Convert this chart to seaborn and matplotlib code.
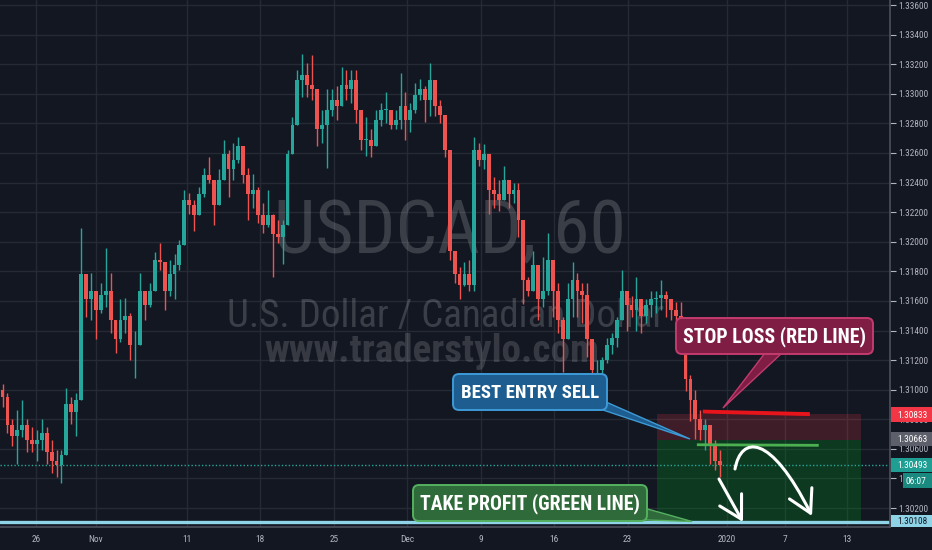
import numpy as np
import matplotlib
matplotlib.use("Agg")
import matplotlib.pyplot as plt
import seaborn as sns
from matplotlib import font_manager
from matplotlib.patches import FancyBboxPatch, Rectangle, Polygon, FancyArrowPatch
from matplotlib.path import Path
from matplotlib.transforms import Affine2D

# ---------------- data (8-hour candles, USDCAD) ----------------
first_open = 1.3100
closes = [
    1.3095, 1.3076, 1.3069, 1.3073, 1.3076, 1.3066, 1.3063, 1.3066, 1.3071, 1.3058,
    1.3052, 1.3049, 1.3056, 1.3090, 1.3085, 1.3093, 1.3178, 1.3161, 1.3167, 1.3154,
    1.3164, 1.3167, 1.3147, 1.3134, 1.3147, 1.3150, 1.3130, 1.3130, 1.3167, 1.3157,
    1.3167, 1.3188, 1.3186, 1.3167, 1.3178, 1.3184, 1.3198, 1.3228, 1.3225, 1.3218,
    1.3232, 1.3245, 1.3242, 1.3225, 1.3242, 1.3259, 1.3249, 1.3255, 1.3265, 1.3245,
    1.3232, 1.3235, 1.3218, 1.3211, 1.3218, 1.3205, 1.3203, 1.3211, 1.3259, 1.3279,
    1.3309, 1.3313, 1.3306, 1.3303, 1.3276, 1.3279, 1.3289, 1.3296, 1.3292, 1.3306,
    1.3303, 1.3309, 1.3289, 1.3269, 1.3269, 1.3265, 1.3282, 1.3289, 1.3289, 1.3279,
    1.3282, 1.3292, 1.3282, 1.3289, 1.3299, 1.3303, 1.3296, 1.3309, 1.3292, 1.3286,
    1.3262, 1.3194, 1.3178, 1.3171, 1.3178, 1.3171, 1.3262, 1.3255, 1.3259, 1.3235,
    1.3232, 1.3228, 1.3242, 1.3232, 1.3235, 1.3215, 1.3174, 1.3167, 1.3184, 1.3161,
    1.3167, 1.3188, 1.3167, 1.3147, 1.3134, 1.3161, 1.3174, 1.3167, 1.3164, 1.3134,
    1.3113, 1.3113, 1.3120, 1.3130, 1.3135, 1.3147, 1.3167, 1.3157, 1.3154, 1.3161,
    1.3150, 1.3157, 1.3161, 1.3162, 1.3164, 1.3161, 1.3154, 1.3150, 1.3130, 1.3107,
    1.3093, 1.3080, 1.3073, 1.3076, 1.3063, 1.3052, 1.30493,
]
highs = [
    1.3104, 1.3098, 1.3080, 1.3086, 1.3093, 1.3080, 1.3075, 1.3073, 1.3080, 1.3075,
    1.3066, 1.3059, 1.3059, 1.3101, 1.3095, 1.3098, 1.3209, 1.3169, 1.3179, 1.3163,
    1.3172, 1.3196, 1.3179, 1.3147, 1.3161, 1.3162, 1.3152, 1.3140, 1.3179, 1.3165,
    1.3172, 1.3193, 1.3199, 1.3185, 1.3188, 1.3192, 1.3201, 1.3235, 1.3233, 1.3228,
    1.3237, 1.3250, 1.3257, 1.3240, 1.3249, 1.3269, 1.3262, 1.3267, 1.3271, 1.3255,
    1.3250, 1.3246, 1.3237, 1.3226, 1.3235, 1.3219, 1.3215, 1.3215, 1.3262, 1.3284,
    1.3316, 1.3327, 1.3321, 1.3326, 1.3296, 1.3289, 1.3303, 1.3303, 1.3305, 1.3318,
    1.3316, 1.3316, 1.3316, 1.3282, 1.3284, 1.3276, 1.3289, 1.3294, 1.3301, 1.3289,
    1.3289, 1.3314, 1.3301, 1.3294, 1.3307, 1.3310, 1.3305, 1.3321, 1.3303, 1.3296,
    1.3284, 1.3257, 1.3194, 1.3183, 1.3186, 1.3188, 1.3271, 1.3267, 1.3266, 1.3255,
    1.3244, 1.3242, 1.3251, 1.3240, 1.3240, 1.3240, 1.3203, 1.3176, 1.3194, 1.3183,
    1.3190, 1.3206, 1.3188, 1.3172, 1.3149, 1.3172, 1.3186, 1.3179, 1.3172, 1.3172,
    1.3127, 1.3120, 1.3122, 1.3135, 1.3138, 1.3149, 1.3181, 1.3167, 1.3163, 1.3176,
    1.3159, 1.3161, 1.3167, 1.3167, 1.3174, 1.3167, 1.3161, 1.3159, 1.3159, 1.3134,
    1.3110, 1.3100, 1.3086, 1.3080, 1.3076, 1.3066, 1.3059,
]
lows = [
    1.3088, 1.3071, 1.3062, 1.3050, 1.3068, 1.3058, 1.3058, 1.3052, 1.3059, 1.3050,
    1.3044, 1.3041, 1.3037, 1.3068, 1.3077, 1.3069, 1.3093, 1.3149, 1.3147, 1.3134,
    1.3152, 1.3156, 1.3138, 1.3125, 1.3132, 1.3138, 1.3120, 1.3108, 1.3147, 1.3147,
    1.3156, 1.3172, 1.3181, 1.3154, 1.3163, 1.3161, 1.3181, 1.3205, 1.3219, 1.3207,
    1.3219, 1.3230, 1.3240, 1.3211, 1.3230, 1.3247, 1.3230, 1.3242, 1.3253, 1.3240,
    1.3215, 1.3223, 1.3213, 1.3206, 1.3210, 1.3176, 1.3199, 1.3185, 1.3215, 1.3271,
    1.3282, 1.3298, 1.3298, 1.3296, 1.3265, 1.3267, 1.3250, 1.3285, 1.3282, 1.3294,
    1.3296, 1.3294, 1.3280, 1.3262, 1.3258, 1.3257, 1.3271, 1.3278, 1.3280, 1.3276,
    1.3276, 1.3276, 1.3269, 1.3274, 1.3287, 1.3296, 1.3281, 1.3285, 1.3285, 1.3280,
    1.3257, 1.3188, 1.3172, 1.3161, 1.3170, 1.3167, 1.3167, 1.3251, 1.3249, 1.3219,
    1.3223, 1.3221, 1.3230, 1.3223, 1.3226, 1.3203, 1.3158, 1.3163, 1.3167, 1.3147,
    1.3156, 1.3164, 1.3149, 1.3138, 1.3112, 1.3138, 1.3149, 1.3149, 1.3145, 1.3122,
    1.3102, 1.3107, 1.3109, 1.3118, 1.3124, 1.3129, 1.3149, 1.3140, 1.3149, 1.3140,
    1.3138, 1.3145, 1.3149, 1.3152, 1.3154, 1.3149, 1.3147, 1.3147, 1.3129, 1.3099,
    1.3079, 1.3067, 1.3066, 1.3059, 1.3050, 1.3046, 1.3041,
]
date_labels = ["26", "Nov", "11", "18", "25", "Dec", "9", "16", "23", "2020", "7", "13"]
date_positions = [6.82, 19.0, 37.54, 52.45, 67.5, 82.3, 97.35, 112.3, 127.2, 147.4, 159.3, 171.9]
price_ticks = [1.302, 1.304, 1.306, 1.308, 1.310, 1.312, 1.314, 1.316, 1.318, 1.320,
               1.322, 1.324, 1.326, 1.328, 1.330, 1.332, 1.334, 1.336]
stop_loss = 1.30833
entry_price = 1.30663
take_profit = 1.30108
last_price = 1.30493
countdown = "06:07"
position_span = [133.2, 174.7]          # candle-index range of the position tool
red_line_x = [142.5, 164.3]; red_line_y = [1.30852, 1.30835]
green_line_x = [141.3, 166.1]; green_line_y = [1.30628, 1.30624]

# ---------------- style ----------------
BG = "#131722"
GRID = "#262a35"
TXT = "#b2b5be"
sns.set_theme(style="dark", rc={"axes.facecolor": BG, "figure.facecolor": BG,
                                "savefig.facecolor": BG, "grid.color": GRID,
                                "axes.edgecolor": "#434651", "text.color": TXT,
                                "xtick.color": TXT, "ytick.color": TXT})

# pick the narrowest sans family that is installed
fl = font_manager.fontManager.ttflist
names = {f.name for f in fl}
STRETCH = "normal"
if "Liberation Sans Narrow" in names:
    FONT = "Liberation Sans Narrow"
elif "Roboto Condensed" in names:
    FONT = "Roboto Condensed"
elif any(f.name == "DejaVu Sans" and f.stretch in ("condensed", "semi-condensed") for f in fl):
    FONT = "DejaVu Sans"; STRETCH = "condensed"
else:
    FONT = "Liberation Sans"
plt.rcParams["font.family"] = [FONT, "DejaVu Sans"]
plt.rcParams["font.stretch"] = STRETCH

W, H = 932, 550
fig = plt.figure(figsize=(W / 100, H / 100), dpi=100)
ax = fig.add_axes([0, 23 / H, 890 / W, 527 / H])
T = Affine2D().scale(1 / W, -1 / H).translate(0, 1) + fig.transFigure   # image-pixel transform

ax.set_xlim(-0.51, 180.6)
ax.set_ylim(1.30072, 1.33634)
ax.grid(True, color=GRID, lw=1.0, zorder=0)
ax.set_axisbelow(True)
for s in ["top", "left"]:
    ax.spines[s].set_visible(False)
ax.spines["right"].set_color("#4a4e59")
ax.spines["bottom"].set_color("#4a4e59")

ax.set_xticks(date_positions)
ax.set_xticklabels(date_labels)
ax.yaxis.tick_right()
ax.set_yticks(price_ticks)
ax.set_yticklabels([f"{p:.5f}" for p in price_ticks])
ax.tick_params(axis="x", length=0, pad=6, labelsize=7, colors=TXT)
ax.tick_params(axis="y", length=4, width=0.8, pad=2, labelsize=7, colors=TXT,
               right=True, left=False)

# watermark (semi-transparent so the grid shows through)
wm1 = ax.text(450, 253, "USDCAD, 60", transform=T, ha="center", va="baseline",
              fontsize=50, color="white", alpha=0.17, zorder=1)
wm2 = ax.text(446, 327, "U.S. Dollar / Canadian Dollar", transform=T, ha="center",
              va="baseline", fontsize=28, color="white", alpha=0.17, zorder=1)
wm3 = ax.text(432, 362, "www.traderstylo.com", transform=T, ha="center", va="baseline",
              fontsize=26, fontweight="bold", color="white", alpha=0.15, zorder=1)

# position tool zones
ax.fill_between(position_span, entry_price, stop_loss, color="#f23645", alpha=0.2, lw=0, zorder=1.5)
ax.fill_between(position_span, take_profit, entry_price, color="#00a020", alpha=0.25, lw=0, zorder=1.5)

# current price dotted line & take profit line
ax.axhline(last_price, color="#26a69a", lw=1.0, ls=(0, (1, 1.5)), zorder=2)
ax.axhline(take_profit, color="#8fd3e6", lw=2.4, zorder=2.5)

# candles
c = np.array(closes); h = np.array(highs); l = np.array(lows)
o = np.r_[first_open, c[:-1]]
x = np.arange(len(c))
hi = np.maximum(h, np.maximum(o, c)); lo = np.minimum(l, np.minimum(o, c))
up = c >= o
cols = np.where(up, "#26a69a", "#ef5350")
ax.vlines(x, lo, hi, colors=cols, lw=1.0, zorder=3)
body_lo = np.minimum(o, c); body_h = np.maximum(np.abs(c - o), 0.00004)
ax.bar(x, body_h, bottom=body_lo, width=0.78, color=cols, lw=0, zorder=3)

# hand drawn lines
ax.plot(red_line_x, red_line_y, color="#e8141c", lw=2.8, solid_capstyle="butt", zorder=4)
ax.plot(green_line_x, green_line_y, color="#4caf50", lw=2.0, solid_capstyle="butt", zorder=4)

# callouts
callout_texts = []
def callout(x0, y0, x1, y1, wedge, face, edge, text, target_w):
    p = Polygon(wedge, closed=True, transform=T, facecolor=face, edgecolor=edge, lw=1.0,
                zorder=5, clip_on=False)
    ax.add_patch(p)
    b = FancyBboxPatch((x0, y0), x1 - x0, y1 - y0, boxstyle="round,pad=0,rounding_size=6",
                       transform=T, facecolor=face, edgecolor=edge, lw=1.4, zorder=5.1, clip_on=False)
    ax.add_patch(b)
    t = ax.text((x0 + x1) / 2, (y0 + y1) / 2 + 1, text, transform=T, ha="center", va="center",
                fontsize=13, fontweight="bold", color="white", zorder=6)
    callout_texts.append((t, target_w))

callout(676, 318, 873, 354, [(765, 353), (782, 353), (723, 408)],
        "#7f1d45", "#c23b6e", "STOP LOSS (RED LINE)", 182)
callout(453, 374, 607, 410, [(600, 409), (606, 402), (690, 439)],
        "#1d5d8f", "#3d9ad6", "BEST ENTRY SELL", 137)
callout(413, 485, 647, 521, [(644, 508), (646, 520), (692, 521.5)],
        "#2f6b3a", "#55b060", "TAKE PROFIT (GREEN LINE)", 219)

# white arrows
curve = Path([(735, 469), (741, 436), (770, 432), (812, 516)],
             [Path.MOVETO, Path.CURVE4, Path.CURVE4, Path.CURVE4])
a1 = FancyArrowPatch(path=curve, arrowstyle="->,head_length=1.6,head_width=0.9",
                     mutation_scale=10, color="white", lw=2.2, transform=T, zorder=6, clip_on=False)
ax.add_patch(a1)
a2 = FancyArrowPatch((719, 479), (743, 522), arrowstyle="->,head_length=1.6,head_width=0.9",
                     mutation_scale=10, color="white", lw=2.2, transform=T, zorder=6, clip_on=False,
                     shrinkA=0, shrinkB=0)
ax.add_patch(a2)

# price tags on the right scale
tag_texts = []
def tag(y0, y1, face, txt, tcol="white", x0=891):
    r = Rectangle((x0, y0), W - x0, y1 - y0, transform=T, facecolor=face, lw=0,
                  zorder=7, clip_on=False)
    fig.add_artist(r)
    t = fig.text(x0 + 6 if x0 == 891 else x0 + 3, (y0 + y1) / 2 + 0.5, txt, transform=T,
                 ha="left", va="center", fontsize=7, color=tcol, zorder=8)
    tag_texts.append(t)

tag(407, 422, "#f23645", f"{stop_loss:.5f}")
tag(432, 446, "#5d606b", f"{entry_price:.5f}")
tag(458, 472, "#1f9e93", f"{last_price:.5f}")
tag(473, 488, "#1a8a80", countdown, x0=903)
tag(515, 527, "#8fd3e6", f"{take_profit:.5f}", tcol="#131722")

# fit text widths to the reference widths
fig.canvas.draw()
r = fig.canvas.get_renderer()
def fit(t, target):
    w = t.get_window_extent(r).width
    if w > 0:
        t.set_fontsize(t.get_fontsize() * target / w)

fit(wm1, 352); fit(wm2, 437); fit(wm3, 335)
for t, tw in callout_texts:
    fit(t, tw)
ref_lbl = ax.get_yticklabels()[0]
w0 = ref_lbl.get_window_extent(r).width
lab_size = 7 * 30.5 / w0 if w0 > 0 else 7
ax.tick_params(axis="both", labelsize=lab_size)
for t in tag_texts:
    t.set_fontsize(lab_size)

fig.savefig("out.png", dpi=100, facecolor=BG)
